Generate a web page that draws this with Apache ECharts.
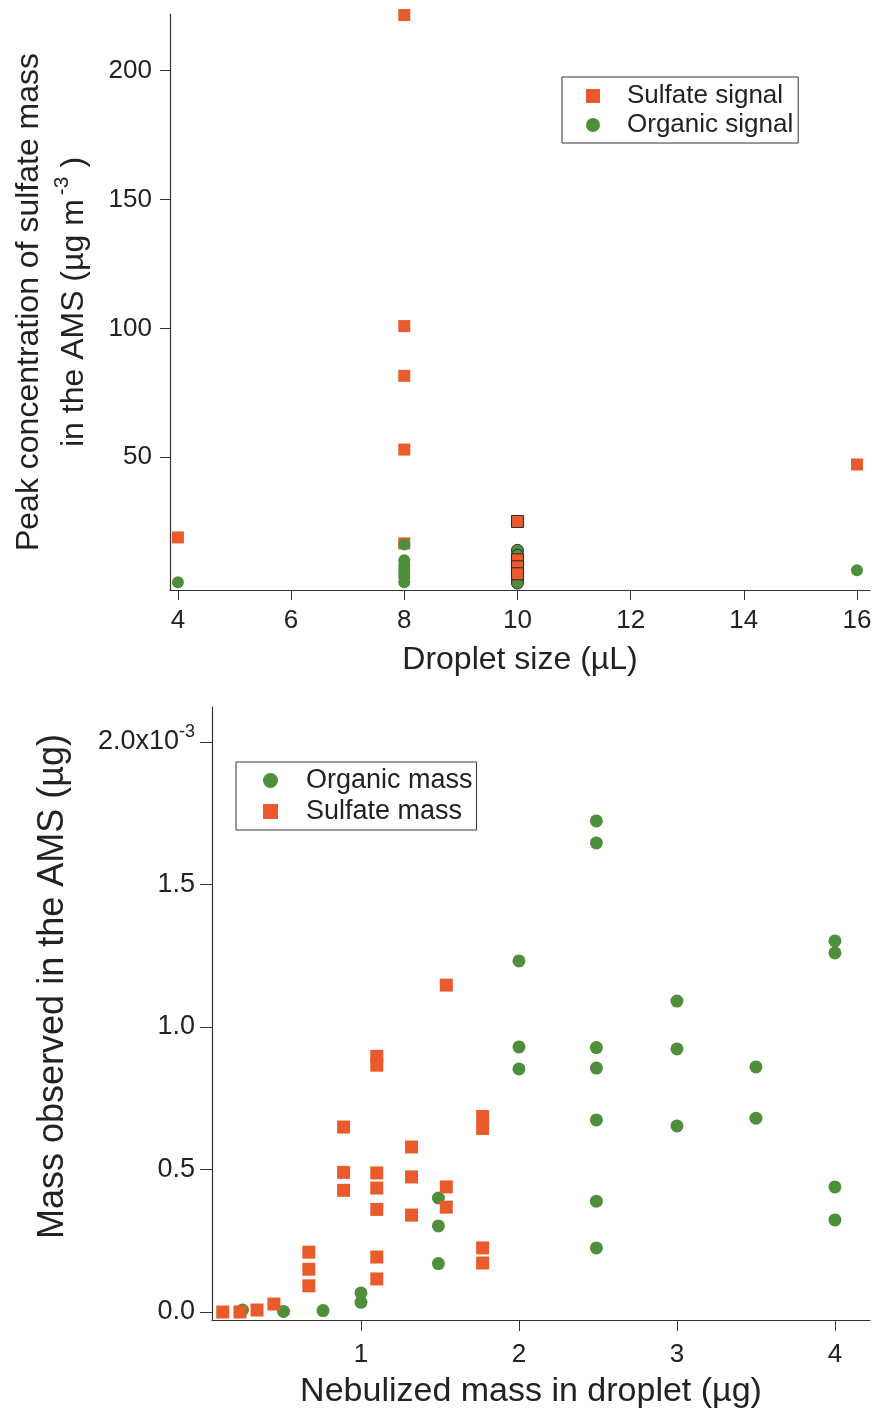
<!DOCTYPE html>
<html>
<head>
<meta charset="utf-8">
<script src="https://cdn.jsdelivr.net/npm/echarts@6/dist/echarts.min.js"></script>
<style>
html,body{margin:0;padding:0;background:#fff;}
#chart{width:875px;height:1410px;}
</style>
</head>
<body>
<div id="chart"></div>
<script>
// ---------- Top panel: droplet size vs peak concentration ----------
const dropletTicks = [4, 6, 8, 10, 12, 14, 16];
const peakTicks = [50, 100, 150, 200];
const sulfateSignalX = [4, 8, 8, 8, 8, 8, 16];
const sulfateSignalY = [18.9, 221.6, 100.9, 81.6, 53.0, 16.6, 47.2];
const organicSignalX = [4, 8, 8, 8, 8, 8, 8, 8, 16];
const organicSignalY = [1.5, 16.2, 10.0, 8.0, 6.5, 5.0, 3.5, 1.5, 6.2];
// points at 10 uL drawn with dark outlines
const sulfateOutlinedX = [10, 10, 10, 10];
const sulfateOutlinedY = [25.1, 10.2, 7.5, 4.8];
const organicOutlinedX = [10, 10, 10, 10, 10, 10, 10, 10];
const organicOutlinedY = [13.9, 12.0, 10.0, 8.0, 6.0, 4.0, 2.5, 1.2];

// ---------- Bottom panel: nebulized mass vs observed mass ----------
const nebulizedTicks = [1, 2, 3, 4];
const observedTicks = [0, 0.0005, 0.001, 0.0015, 0.002];
const organicMassX = [0.25, 0.51, 0.76, 1.0, 1.0, 1.49, 1.49, 1.49, 2.0, 2.0, 2.0,
  2.49, 2.49, 2.49, 2.49, 2.49, 2.49, 2.49, 3.0, 3.0, 3.0, 3.5, 3.5, 3.5, 4.0, 4.0, 4.0, 4.0];
const organicMassY = [0.000007, 0.000002, 0.000005, 0.000067, 0.000034, 0.000400, 0.000302, 0.000170,
  0.001232, 0.000930, 0.000853,
  0.001723, 0.001646, 0.000928, 0.000856, 0.000674, 0.000389, 0.000225,
  0.001091, 0.000923, 0.000653,
  0.002126, 0.000860, 0.000680,
  0.001302, 0.001260, 0.000439, 0.000323];
const sulfateMassX = [0.125, 0.234, 0.342, 0.449, 0.67, 0.67, 0.67, 0.89, 0.89, 0.89,
  1.10, 1.10, 1.10, 1.10, 1.10, 1.10, 1.10, 1.32, 1.32, 1.32, 1.54, 1.54, 1.54,
  1.77, 1.77, 1.77, 1.77];
const sulfateMassY = [0.000000, 0.000000, 0.000007, 0.000028, 0.000210, 0.000150, 0.000092,
  0.000649, 0.000490, 0.000427,
  0.000897, 0.000866, 0.000488, 0.000435, 0.000360, 0.000193, 0.000116,
  0.000579, 0.000474, 0.000340,
  0.001147, 0.000439, 0.000368,
  0.000686, 0.000644, 0.000225, 0.000172];

const zip = (xs, ys) => xs.map((x, i) => [x, ys[i]]);

const ORANGE = '#E95B2C';
const GREEN = '#4F8E3B';
const INK = '#222';
const FONT = 'Liberation Sans';

const axisLineStyle = { lineStyle: { color: '#333', width: 1.2 } };

const option = {
  animation: false,
  backgroundColor: '#fff',
  textStyle: { fontFamily: FONT, color: INK },
  grid: [
    { left: 170, top: 14, width: 700, height: 576, outerBoundsMode: 'none', containLabel: false },
    { left: 212, top: 707, width: 658, height: 613, outerBoundsMode: 'none', containLabel: false }
  ],
  xAxis: [
    {
      gridIndex: 0, type: 'value', min: 3.86, max: 16.23,
      axisLine: Object.assign({ onZero: false }, axisLineStyle),
      axisTick: { customValues: dropletTicks, length: 10, lineStyle: { color: '#333' } },
      axisLabel: { customValues: dropletTicks, fontSize: 26, color: INK, margin: 18, fontFamily: FONT },
      splitLine: { show: false },
      name: 'Droplet size (µL)', nameLocation: 'middle', nameGap: 54,
      nameTextStyle: { fontSize: 32, color: INK, fontFamily: FONT }
    },
    {
      gridIndex: 1, type: 'value', min: 0.057, max: 4.222,
      axisLine: Object.assign({ onZero: false }, axisLineStyle),
      axisTick: { customValues: nebulizedTicks, length: 11, lineStyle: { color: '#333' } },
      axisLabel: { customValues: nebulizedTicks, fontSize: 26, color: INK, margin: 22, fontFamily: FONT },
      splitLine: { show: false },
      name: 'Nebulized mass in droplet (µg)', nameLocation: 'middle', nameGap: 55,
      nameTextStyle: { fontSize: 34, color: INK, fontFamily: FONT, padding: [0, 20, 0, 0] }
    }
  ],
  yAxis: [
    {
      gridIndex: 0, type: 'value', min: -1.5, max: 222,
      axisLine: Object.assign({ onZero: false }, axisLineStyle),
      axisTick: { customValues: peakTicks, length: 10, lineStyle: { color: '#333' } },
      axisLabel: { customValues: peakTicks, fontSize: 26, color: INK, margin: 18, fontFamily: FONT },
      splitLine: { show: false },
      name: '{a|Peak concentration of sulfate mass}\n{a|in the AMS (µg m}{s|-3}{a| )}',
      nameLocation: 'middle', nameRotate: 90, nameGap: 73,
      nameTextStyle: {
        fontFamily: FONT, color: INK, lineHeight: 45,
        rich: {
          a: { fontSize: 32, color: INK, fontFamily: FONT, lineHeight: 45 },
          s: { fontSize: 21, color: INK, fontFamily: FONT, verticalAlign: 'top', lineHeight: 45, padding: [0, 0, 0, 4] }
        }
      }
    },
    {
      gridIndex: 1, type: 'value', min: -0.000028, max: 0.0021228,
      axisLine: Object.assign({ onZero: false }, axisLineStyle),
      axisTick: { customValues: observedTicks, length: 12, lineStyle: { color: '#333' } },
      axisLabel: {
        customValues: observedTicks, fontSize: 26, color: INK, margin: 17, fontFamily: FONT,
        formatter: function (v) {
          if (Math.abs(v - 0.002) < 1e-9) return '{b|2.0x10}{s|-3}';
          return '{b|' + (v * 1000).toFixed(1) + '}';
        },
        rich: {
          b: { fontSize: 27, color: INK, fontFamily: FONT, lineHeight: 38 },
          s: { fontSize: 18, color: INK, fontFamily: FONT, verticalAlign: 'top', lineHeight: 38 }
        }
      },
      splitLine: { show: false },
      name: 'Mass observed in the AMS (µg)',
      nameLocation: 'middle', nameRotate: 90, nameGap: 141,
      nameTextStyle: { fontSize: 36, color: INK, fontFamily: FONT, padding: [0, 0, 0, 54] }
    }
  ],
  legend: [
    {
      data: [{ name: 'Sulfate signal', icon: 'rect' }, { name: 'Organic signal', icon: 'circle' }],
      orient: 'vertical', left: 562, top: 77,
      padding: [6, 5, 5, 24], itemGap: 3, itemWidth: 14, itemHeight: 14,
      borderColor: '#333', borderWidth: 1, backgroundColor: '#fff',
      textStyle: { fontSize: 26, color: INK, fontFamily: FONT, padding: [0, 0, 0, 22] }
    },
    {
      data: [{ name: 'Organic mass', icon: 'circle' }, { name: 'Sulfate mass', icon: 'rect' }],
      orient: 'vertical', left: 236, top: 762,
      padding: [5, 4, 5, 27], itemGap: 4, itemWidth: 15, itemHeight: 15,
      borderColor: '#333', borderWidth: 1, backgroundColor: '#fff',
      textStyle: { fontSize: 27, color: INK, fontFamily: FONT, padding: [0, 0, 0, 23] }
    }
  ],
  series: [
    {
      name: 'Sulfate signal', type: 'scatter', xAxisIndex: 0, yAxisIndex: 0, z: 4,
      symbol: 'rect', symbolSize: 12, itemStyle: { color: ORANGE, opacity: 1 },
      data: zip(sulfateSignalX, sulfateSignalY)
    },
    {
      name: 'Organic signal', type: 'scatter', xAxisIndex: 0, yAxisIndex: 0, z: 5,
      symbol: 'circle', symbolSize: 12, itemStyle: { color: GREEN, opacity: 1 },
      data: zip(organicSignalX, organicSignalY)
    },
    {
      name: 'Organic signal', type: 'scatter', xAxisIndex: 0, yAxisIndex: 0, z: 2,
      symbol: 'circle', symbolSize: 12,
      itemStyle: { color: GREEN, opacity: 1, borderColor: '#2a2a2a', borderWidth: 1 },
      data: zip(organicOutlinedX, organicOutlinedY)
    },
    {
      name: 'Sulfate signal', type: 'scatter', xAxisIndex: 0, yAxisIndex: 0, z: 3,
      symbol: 'rect', symbolSize: 12,
      itemStyle: { color: ORANGE, opacity: 1, borderColor: '#2a2a2a', borderWidth: 1 },
      data: zip(sulfateOutlinedX, sulfateOutlinedY)
    },
    {
      name: 'Organic mass', type: 'scatter', xAxisIndex: 1, yAxisIndex: 1, z: 2,
      symbol: 'circle', symbolSize: 13, itemStyle: { color: GREEN, opacity: 1 },
      data: zip(organicMassX, organicMassY)
    },
    {
      name: 'Sulfate mass', type: 'scatter', xAxisIndex: 1, yAxisIndex: 1, z: 3,
      symbol: 'rect', symbolSize: 13, itemStyle: { color: ORANGE, opacity: 1 },
      data: zip(sulfateMassX, sulfateMassY)
    }
  ]
};

const chart = echarts.init(document.getElementById('chart'), null, { renderer: 'canvas' });
chart.setOption(option);
</script>
</body>
</html>
